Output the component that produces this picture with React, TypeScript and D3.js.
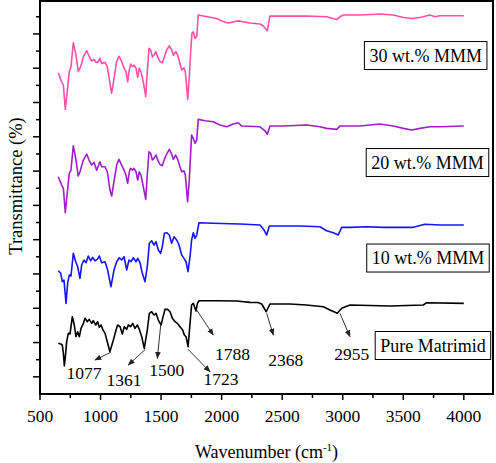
import React from "react";
import * as d3 from "d3";

// ---------- data (wavenumber cm^-1, transmittance in stacked arbitrary %) ----------
const pureWn = [651, 671, 684, 693, 701, 712, 720, 734, 748, 767, 783, 797, 811, 825, 839, 858, 872, 891, 907, 927, 940, 960, 976, 990, 1004, 1018, 1037, 1059, 1077, 1106, 1128, 1141, 1161, 1180, 1196, 1216, 1229, 1248, 1265, 1285, 1304, 1320, 1340, 1361, 1386, 1403, 1422, 1441, 1458, 1477, 1500, 1513, 1532, 1554, 1574, 1593, 1615, 1634, 1656, 1678, 1692, 1706, 1723, 1739, 1752, 1766, 1788, 1800, 1813, 1959, 2124, 2234, 2300, 2331, 2368, 2399, 2564, 2700, 2840, 2895, 2955, 2991, 3060, 3390, 3665, 3693, 4000];
const pureT = [14.78, 14.58, 14.29, 11.87, 8.16, 11.87, 15.25, 17.7, 17.49, 22.54, 20.12, 16.71, 18.16, 16.71, 19.15, 20.61, 22.07, 21.08, 21.78, 20.61, 21.37, 20.12, 21.08, 19.45, 20.12, 18.86, 17.7, 14.78, 12.33, 15.74, 18.66, 20.12, 19.62, 17.49, 19.62, 18.86, 20.12, 19.62, 20.61, 19.15, 20.12, 18.86, 16.71, 13.32, 18.66, 23.53, 23.99, 23.03, 23.53, 21.57, 20.12, 22.07, 24.69, 24.69, 23.99, 22.07, 21.08, 20.61, 19.62, 18.66, 17.2, 16.71, 13.79, 20.61, 25.95, 26.44, 24.2, 26.44, 27.2, 27.2, 27.11, 26.73, 26.68, 26.24, 23.99, 26.24, 26.24, 25.95, 25.45, 24.49, 23.53, 24.99, 25.95, 25.66, 25.95, 26.62, 26.44];

const mmm10Wn = [651, 671, 684, 698, 715, 728, 742, 756, 775, 795, 811, 830, 844, 863, 880, 899, 918, 935, 954, 973, 990, 1009, 1037, 1059, 1086, 1111, 1133, 1155, 1174, 1194, 1216, 1235, 1251, 1271, 1293, 1307, 1326, 1345, 1367, 1386, 1403, 1422, 1441, 1458, 1477, 1496, 1510, 1527, 1546, 1568, 1587, 1607, 1629, 1648, 1670, 1689, 1706, 1722, 1739, 1752, 1766, 1780, 1794, 1813, 1931, 2152, 2317, 2350, 2372, 2394, 2482, 2647, 2812, 2867, 2922, 2963, 2991, 3060, 3198, 3335, 3473, 3583, 3679, 3803, 4000];
const mmm10T = [35.95, 35.19, 32.74, 33.24, 26.44, 32.27, 34.69, 34.4, 41.02, 38.57, 37.11, 33.73, 37.61, 39.07, 38.28, 40.23, 38.86, 39.85, 38.86, 39.27, 40.23, 38.28, 38.57, 36.15, 31.28, 36.15, 38.57, 39.74, 39.07, 40.03, 36.15, 39.07, 38.57, 39.74, 38.57, 39.56, 38.28, 35.19, 32.74, 37.11, 43.94, 44.69, 43.44, 44.4, 41.98, 41.02, 42.94, 46.85, 47.03, 46.36, 43.94, 45.86, 44.9, 43.44, 40.52, 39.56, 38.57, 35.66, 40.03, 44.9, 47.03, 45.39, 46.36, 49.94, 49.77, 49.56, 49.27, 47.81, 46.36, 48.98, 48.98, 48.98, 48.78, 47.61, 47.03, 46.36, 48.6, 48.6, 48.78, 48.6, 48.6, 48.6, 49.48, 49.27, 49.27];

const mmm20Wn = [651, 679, 693, 709, 726, 742, 756, 775, 795, 816, 830, 858, 885, 905, 927, 946, 968, 995, 1009, 1037, 1056, 1078, 1092, 1111, 1133, 1152, 1174, 1194, 1210, 1224, 1238, 1248, 1265, 1276, 1293, 1307, 1320, 1334, 1353, 1373, 1386, 1400, 1414, 1428, 1441, 1458, 1472, 1491, 1510, 1527, 1546, 1568, 1587, 1601, 1620, 1637, 1656, 1670, 1689, 1700, 1719, 1733, 1744, 1752, 1766, 1780, 1794, 1807, 1863, 1931, 1986, 2042, 2096, 2138, 2166, 2317, 2358, 2377, 2399, 2509, 2702, 2812, 2867, 2950, 2977, 3142, 3308, 3417, 3500, 3569, 3638, 3720, 3803, 4000];
const mmm20T = [63.35, 60.93, 59.97, 52.86, 58.98, 64.34, 65.31, 72.39, 68.72, 63.56, 64.81, 68.22, 69.97, 68.22, 66.76, 67.55, 65.26, 67.73, 66.27, 66.27, 64.81, 59.48, 57.73, 61.9, 66.76, 68.43, 66.76, 65.31, 63.85, 61.43, 64.81, 65.8, 65.31, 65.8, 64.81, 62.39, 64.81, 63.85, 60.44, 56.76, 63.85, 70.64, 70.17, 68.22, 68.72, 69.68, 68.22, 66.97, 66.56, 68.43, 69.97, 71.34, 69.97, 68.43, 69.68, 68.43, 66.27, 64.81, 65.1, 63.85, 56.06, 62.39, 70.17, 75.51, 74.55, 73.09, 74.05, 80.09, 79.68, 79.39, 78.43, 77.93, 78.72, 79.1, 78.13, 77.93, 76.76, 75.71, 78.13, 78.13, 78.43, 77.93, 77.46, 77.17, 78.13, 78.13, 78.72, 78.13, 77.46, 76.97, 77.46, 77.93, 77.93, 78.13];

const mmm30Wn = [651, 679, 693, 709, 726, 742, 756, 775, 795, 816, 830, 844, 858, 886, 905, 927, 946, 962, 981, 995, 1009, 1037, 1056, 1078, 1092, 1111, 1133, 1152, 1175, 1194, 1210, 1224, 1237, 1249, 1265, 1276, 1293, 1307, 1320, 1334, 1353, 1373, 1386, 1400, 1414, 1428, 1441, 1458, 1472, 1491, 1510, 1527, 1546, 1568, 1588, 1601, 1621, 1637, 1656, 1670, 1689, 1700, 1720, 1733, 1745, 1755, 1766, 1780, 1794, 1807, 1849, 1959, 2000, 2055, 2137, 2234, 2317, 2344, 2377, 2399, 2509, 2702, 2867, 2950, 2977, 3005, 3142, 3308, 3417, 3500, 3569, 3638, 3720, 3762, 3803, 4000];
const mmm30T = [93.7, 91.0, 90.1, 83.0, 88.6, 94.0, 95.4, 102.4, 99.3, 94.0, 95.0, 96.4, 98.3, 100.1, 98.5, 97.1, 97.6, 96.7, 96.9, 97.9, 96.4, 96.7, 95.4, 90.6, 87.7, 92.0, 96.9, 98.5, 96.9, 95.0, 94.0, 91.0, 94.5, 96.2, 95.4, 95.9, 95.0, 92.3, 95.0, 94.0, 91.0, 86.7, 94.0, 100.8, 100.3, 98.3, 98.8, 99.8, 98.3, 96.9, 96.6, 98.3, 100.3, 101.5, 100.3, 98.8, 99.8, 98.8, 96.4, 94.5, 95.1, 94.0, 86.0, 92.5, 100.3, 105.2, 105.6, 103.7, 104.2, 110.5, 110.2, 109.5, 108.8, 108.2, 108.8, 108.2, 107.9, 107.3, 105.9, 110.2, 110.2, 110.2, 110.0, 109.2, 110.0, 110.5, 110.5, 110.8, 110.5, 109.8, 109.5, 109.8, 110.5, 110.0, 110.3, 110.3];

const seriesNames = ["Pure Matrimid", "10 wt.% MMM", "20 wt.% MMM", "30 wt.% MMM"];
const seriesColors = ["#000000", "#1414ff", "#a01ec8", "#ff4fa8"];
const seriesWn = [pureWn, mmm10Wn, mmm20Wn, mmm30Wn];
const seriesT = [pureT, mmm10T, mmm20T, mmm30T];
// legend box centres (data coords)
const legendWn = [3745, 3704, 3700, 3685];
const legendT = [14.14, 39.65, 67.5, 98.7];

// peak annotations: label, arrow start (on curve), arrow end, label position (data coords)
const peakLabels = ["1077", "1361", "1500", "1723", "1788", "2368", "2955"];
const peakFromWn = [1084, 1370, 1497, 1722, 1794, 2372, 2977];
const peakFromT = [12.16, 13.03, 20.12, 13.03, 24.49, 23.53, 23.53];
const peakToWn = [954, 1229, 1469, 1904, 1931, 2427, 3060];
const peakToT = [9.91, 8.45, 10.41, 6.5, 17.2, 17.2, 16.71];
const peakLabelWn = [863, 1194, 1546, 1995, 2090, 2529, 3074];
const peakLabelT = [4.37, 2.33, 5.25, 2.62, 9.91, 8.16, 9.91];

const xMajorTicks = [500, 1000, 1500, 2000, 2500, 3000, 3500, 4000];
const xMinorTicks = [750, 1250, 1750, 2250, 2750, 3250, 3750];
const yMajorTicks = [5, 15, 25, 35, 45, 55, 65, 75, 85, 95, 105];
const yMinorTicks = [10, 20, 30, 40, 50, 60, 70, 80, 90, 100, 110];

const FONT = "'Liberation Serif', 'Times New Roman', serif";

function textWidth(s: string, size: number) {
  const c = document.createElement("canvas");
  const ctx = c.getContext("2d");
  if (!ctx) return s.length * size * 0.5;
  ctx.font = `${size}px 'Liberation Serif'`;
  return ctx.measureText(s).width;
}

export default function App() {
  const W = 496, H = 463;
  const left = 40, right = 493, top = 1, bottom = 394;
  const x = d3.scaleLinear().domain([500, 4241]).range([left, right]);
  const y = d3.scaleLinear().domain([0, 114.6]).range([bottom, top]);
  const line = d3
    .line<[number, number]>()
    .x((d) => x(d[0]))
    .y((d) => y(d[1]))
    .curve(d3.curveLinear);

  return (
    <svg
      width={W}
      height={H}
      style={{ position: "absolute", left: 0, top: 0, background: "#fff" }}
      fontFamily={FONT}
    >
      <defs>
        <marker id="arr" viewBox="0 0 10 10" refX="9" refY="5" markerWidth="7" markerHeight="7" orient="auto-start-reverse" markerUnits="userSpaceOnUse">
          <path d="M0,1 L10,5 L0,9 z" fill="#222" />
        </marker>
        <clipPath id="plot">
          <rect x={left} y={top} width={right - left} height={bottom - top} />
        </clipPath>
      </defs>
      <rect x={0} y={0} width={W} height={H} fill="#fff" />

      {/* curves */}
      <g clipPath="url(#plot)">
        {seriesWn.map((wn, i) => {
          const pts = wn.map((w, j) => [w, seriesT[i][j]] as [number, number]);
          return (
            <path key={i} d={line(pts) || ""} fill="none" stroke={seriesColors[i]} strokeWidth={1.6} strokeLinejoin="round" />
          );
        })}
      </g>

      {/* annotations */}
      {peakLabels.map((lab, i) => (
        <g key={lab}>
          <line
            x1={x(peakFromWn[i])}
            y1={y(peakFromT[i])}
            x2={x(peakToWn[i])}
            y2={y(peakToT[i])}
            stroke="#333"
            strokeWidth={1}
            markerEnd="url(#arr)"
          />
          <text x={x(peakLabelWn[i])} y={y(peakLabelT[i])} textAnchor="middle" fontSize={17.5} fill="#000">
            {lab}
          </text>
        </g>
      ))}

      {/* legend boxes */}
      {seriesNames.map((name, i) => {
        const fs = 18;
        const tw = textWidth(name, fs);
        const cx = x(legendWn[i]);
        const cy = y(legendT[i]);
        const bw = tw + 10;
        const bh = 28;
        return (
          <g key={name}>
            <rect x={cx - bw / 2} y={cy - bh / 2} width={bw} height={bh} fill="#fff" stroke="#000" strokeWidth={1} />
            <text x={cx} y={cy + 6} textAnchor="middle" fontSize={fs} fill="#000">
              {name}
            </text>
          </g>
        );
      })}

      {/* frame */}
      <rect x={left} y={top} width={right - left} height={bottom - top} fill="none" stroke="#000" strokeWidth={2} />

      {/* x ticks */}
      {xMajorTicks.map((t) => (
        <g key={"xM" + t}>
          <line x1={x(t)} x2={x(t)} y1={bottom} y2={bottom + 6} stroke="#000" strokeWidth={1.5} />
          <text x={x(t)} y={bottom + 28} textAnchor="middle" fontSize={17.5} fill="#000">
            {t}
          </text>
        </g>
      ))}
      {xMinorTicks.map((t) => (
        <line key={"xm" + t} x1={x(t)} x2={x(t)} y1={bottom} y2={bottom + 4} stroke="#000" strokeWidth={1.5} />
      ))}

      {/* y ticks */}
      {yMajorTicks.map((t) => (
        <line key={"yM" + t} x1={left - 7} x2={left} y1={y(t)} y2={y(t)} stroke="#000" strokeWidth={1.5} />
      ))}
      {yMinorTicks.map((t) => (
        <line key={"ym" + t} x1={left - 4} x2={left} y1={y(t)} y2={y(t)} stroke="#000" strokeWidth={1.5} />
      ))}

      {/* axis titles */}
      <text x={(left + right) / 2} y={458} textAnchor="middle" fontSize={18} fill="#000">
        Wavenumber (cm
        <tspan dy={-7} fontSize={11}>-1</tspan>
        <tspan dy={7}>)</tspan>
      </text>
      <text transform={`translate(22, 186) rotate(-90)`} textAnchor="middle" fontSize={18.5} fill="#000">
        Transmittance (%)
      </text>
    </svg>
  );
}
